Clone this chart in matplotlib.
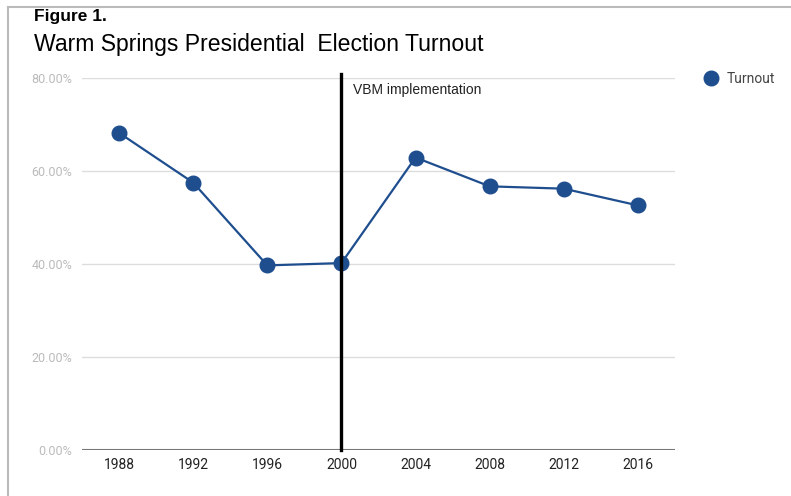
import numpy as np
import matplotlib.pyplot as plt
from matplotlib.lines import Line2D
from matplotlib.ticker import PercentFormatter

plt.rcParams['font.family'] = ['Roboto', 'DejaVu Sans']

years = ['1988', '1992', '1996', '2000', '2004', '2008', '2012', '2016']
turnout = [0.682, 0.575, 0.397, 0.402, 0.629, 0.567, 0.562, 0.526]
yticks = [0.0, 0.2, 0.4, 0.6, 0.8]
vbm_year = '2000'

blue = '#1f4e8f'
arial = ['Liberation Sans', 'DejaVu Sans']

fig = plt.figure(figsize=(7.91, 4.96), dpi=100)
ax = fig.add_axes([82 / 791, 1 - 450 / 496, (675 - 82) / 791, (450 - 78) / 496])

x = np.arange(len(years))
ax.plot(x, turnout, color=blue, lw=1.6, marker='o', ms=10.5, zorder=3)

# vertical marker for vote-by-mail start
vx = years.index(vbm_year)
ax.plot([vx, vx], [0, 0.808], color='black', lw=2.4, clip_on=False, zorder=4)
ax.text(vx + 0.15, 0.775, 'VBM implementation', fontsize=10, color='#222222',
        va='center', family=arial)

ax.set_xlim(-0.5, len(years) - 0.5)
ax.set_ylim(0, 0.8)
ax.set_xticks(x)
ax.set_xticklabels(years, fontsize=10, color='#222222')
ax.set_yticks(yticks)
ax.yaxis.set_major_formatter(PercentFormatter(1.0, decimals=2))
ax.tick_params(axis='y', length=0, pad=7, labelsize=9, labelcolor='#bbbbbb')
ax.tick_params(axis='x', length=0, pad=6)
ax.grid(axis='y', color='#dddddd', lw=1)
ax.axhline(0, color='#777777', lw=1.5, zorder=2)
for s in ax.spines.values():
    s.set_visible(False)

# legend
leg_h = [Line2D([], [], color=blue, marker='o', ms=10.5, lw=0)]
fig.legend(leg_h, ['Turnout'], loc='center left', bbox_to_anchor=(690 / 791, 1 - 79 / 496),
           frameon=False, fontsize=10, handletextpad=0.55, labelcolor='#444444',
           handlelength=1.2)

# titles
fig.text(34 / 791, 1 - 17 / 496, 'Figure 1.', fontsize=12.5, fontweight='bold',
         va='center', family=arial)
fig.text(34 / 791, 1 - 45 / 496, 'Warm Springs Presidential  Election Turnout',
         fontsize=16.6, va='center', family=arial)

# page border
fig.add_artist(Line2D([8 / 791, 1], [1 - 7 / 496, 1 - 7 / 496], color='#bbbbbb', lw=1.5))
fig.add_artist(Line2D([8 / 791, 8 / 791], [0, 1 - 7 / 496], color='#bbbbbb', lw=1.5))

fig.savefig('out.png', dpi=100)
